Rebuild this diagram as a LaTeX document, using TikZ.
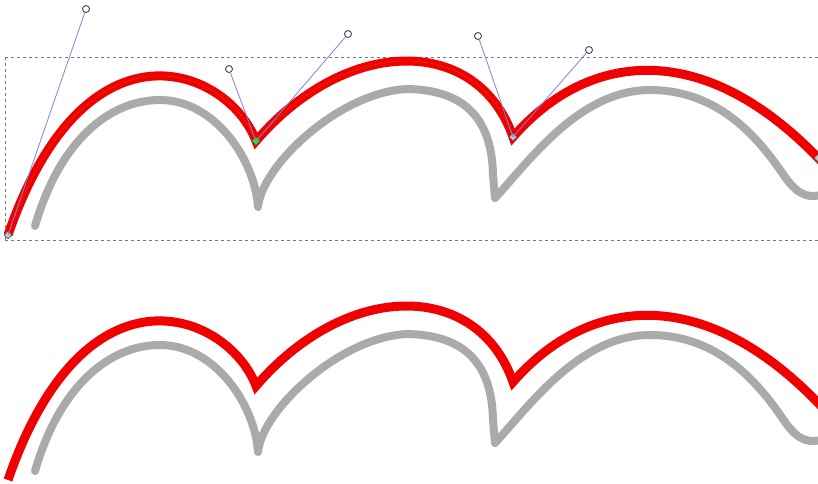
\documentclass[tikz,border=0pt]{standalone}
\usetikzlibrary{shapes.geometric}
\begin{document}
\begin{tikzpicture}[x=1pt,y=-1pt,
  redline/.style={draw={rgb,255:red,240;green,0;blue,0},line width=9pt},
  grayline/.style={draw={rgb,255:red,170;green,170;blue,170},line width=8pt,line cap=round,line join=round},
  handleline/.style={draw={rgb,255:red,130;green,130;blue,220},line width=0.8pt},
  handlept/.style={circle,draw={rgb,255:red,70;green,70;blue,70},fill=white,line width=0.9pt,inner sep=0pt,minimum size=7pt},
  anchorpt/.style={diamond,draw={rgb,255:red,90;green,90;blue,90},fill={rgb,255:red,200;green,200;blue,200},line width=0.6pt,inner sep=0pt,minimum size=8pt},
  selpt/.style={anchorpt,fill={rgb,255:red,60;green,220;blue,60},draw={rgb,255:red,40;green,150;blue,40}},
  bbox/.style={draw={rgb,255:red,120;green,120;blue,120},line width=0.9pt,dash pattern=on 3pt off 3pt},
  arches/.pic={
    \draw[grayline] (35,226) .. controls (60,140) and (110,100) .. (160,100)
      .. controls (215,100) and (255,160) .. (258,207)
      .. controls (262,165) and (340,92) .. (407,89)
      .. controls (475,90) and (492,130) .. (493,175) -- (495,198)
      .. controls (530,160) and (580,90) .. (650,90)
      .. controls (720,90) and (760,140) .. (785,177)
      .. controls (800,198) and (810,197) .. (822,195);
    \draw[redline] (8,235) .. controls (86,9) and (229,69) .. (256,141)
      .. controls (348,34) and (478,36) .. (513,137)
      .. controls (589,50) and (705,38) .. (822,162);
  }]
\useasboundingbox (0,0) rectangle (818,483);
\fill[white] (0,0) rectangle (818,483);
\draw[bbox] (5,57) -- (830,57);
\draw[bbox] (5,240) -- (830,240);
\draw[bbox] (5,57) -- (5,240);
\pic at (0,0) {arches};
\pic at (0,245) {arches};
% thin path outline of the selected path
\draw[draw={rgb,255:red,200;green,70;blue,0},line width=0.4pt] (8,235) .. controls (86,9) and (229,69) .. (256,141)
      .. controls (348,34) and (478,36) .. (513,137);
% anchor nodes and handles
\node[anchorpt] (a0) at (8,235) {};
\node[selpt] (a1) at (256,141) {};
\node[anchorpt] (a2) at (513,137) {};
\node[anchorpt] (a3) at (818,158) {};
\node[handlept] (h0) at (86,9) {};
\node[handlept] (h1a) at (229,69) {};
\node[handlept] (h1b) at (348,34) {};
\node[handlept] (h2a) at (478,36) {};
\node[handlept] (h2b) at (589,50) {};
\draw[handleline] (a0.center) -- (h0);
\draw[handleline] (a1.center) -- (h1a);
\draw[handleline] (a1.center) -- (h1b);
\draw[handleline] (a2.center) -- (h2a);
\draw[handleline] (a2.center) -- (h2b);
\end{tikzpicture}
\end{document}
